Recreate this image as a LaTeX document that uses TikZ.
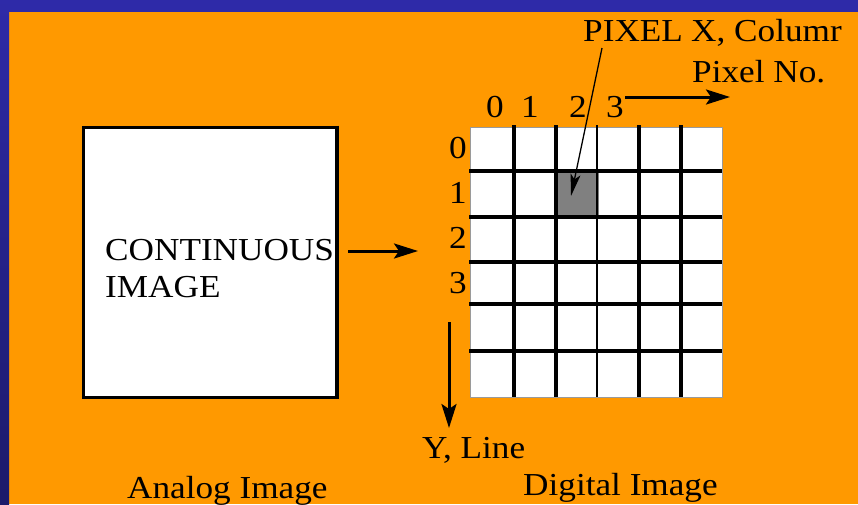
\documentclass[tikz,border=0pt]{standalone}
\usepackage{fontspec}
\setmainfont{Liberation Serif}[FakeStretch=1.1]
\usetikzlibrary{arrows.meta}
\definecolor{bgorange}{HTML}{FF9900}
\definecolor{bluetop}{HTML}{2E2AA8}
\definecolor{bluebot}{HTML}{1C1A6A}
\definecolor{cellgray}{HTML}{808080}
\definecolor{edgegray}{HTML}{9A9A9A}
\begin{document}
\begin{tikzpicture}[x=1pt,y=-1pt,
  lbl/.style={font=\fontsize{32}{36}\selectfont, inner sep=0pt, anchor=base west},
  digit/.style={font=\fontsize{32}{36}\selectfont, inner sep=0pt, anchor=base},
  bigarrow/.style={line width=3pt, -{Stealth[length=24pt,width=15pt,inset=5pt]}},
  thinarrow/.style={line width=1.3pt, -{Stealth[length=22pt,width=10pt,inset=5pt]}},
  gridline/.style={line width=3.2pt},
  thingrid/.style={line width=1.2pt}]
\useasboundingbox (0,0) rectangle (858,504);
% background
\fill[bgorange] (0,0) rectangle (858,504);
\fill[bluetop] (0,0) rectangle (858,12);
\shade[top color=bluetop, bottom color=bluebot] (0,0) rectangle (9,504);

% analog image box
\node[draw=black, line width=3pt, fill=white, minimum width=253pt, minimum height=270pt, inner sep=0pt] (analog) at (209.5,262) {};
\node[lbl] (cont) at (105,260) {CONTINUOUS};
\node[lbl] (img) at (105,297) {IMAGE};
\draw[line width=2pt] (analog.north east) -- (analog.south east);

% arrow analog -> digital
\coordinate (a1) at (348,251);
\coordinate (a2) at (418,251);
\draw[bigarrow] (a1) -- (a2);

% digital grid
\node[draw=edgegray, line width=1pt, fill=white, minimum width=252pt, minimum height=270pt, inner sep=0pt] (grid) at (596,262) {};
\node[fill=cellgray, inner sep=0pt, minimum width=42pt, minimum height=44pt] (pix) at (577.5,194) {};
\foreach \x in {514,556,639,681} \draw[gridline] (\x,125) -- (\x,397);
\draw[thingrid] (597,125) -- (597,397);
\foreach \y in {171,217,262,304,351} \draw[gridline] (469,\y) -- (722,\y);

% column labels
\node[digit] (c0) at (495,117) {0};
\node[digit] (c1) at (530,117) {1};
\node[digit] (c2) at (578,117) {2};
\node[digit] (c3) at (615,117) {3};
% row labels
\node[digit] (r0) at (458,158) {0};
\node[digit] (r1) at (458,203) {1};
\node[digit] (r2) at (458,248) {2};
\node[digit] (r3) at (458,293) {3};

% labels
\node[lbl] (pixel) at (583,41) {PIXEL};
\node[lbl] (xcol) at (691,41) {X, Columr};
\node[lbl] (pixno) at (692,82) {Pixel No.};
\node[lbl] (yline) at (422,458) {Y, Line};
\node[lbl] (digital) at (523,495) {Digital Image};
\node[lbl] (analoglbl) at (127,498) {Analog Image};

% pointer from PIXEL
\coordinate (p1) at (602,48);
\coordinate (p2) at (571,196);
\draw[thinarrow] (p1) -- (p2);

% X axis arrow
\coordinate (x1) at (625,97);
\coordinate (x2) at (730,97);
\draw[bigarrow] (x1) -- (x2);

% Y axis arrow
\coordinate (y1) at (449,322);
\coordinate (y2) at (449,428);
\draw[bigarrow] (y1) -- (y2);
\end{tikzpicture}
\end{document}
